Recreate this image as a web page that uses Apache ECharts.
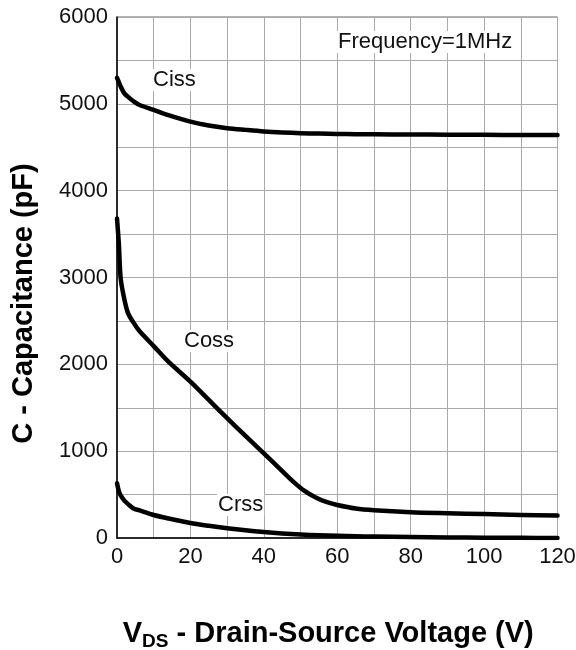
<!DOCTYPE html>
<html>
<head>
<meta charset="utf-8">
<script src="https://cdn.jsdelivr.net/npm/echarts@6/dist/echarts.min.js"></script>
<style>
  html, body { margin: 0; padding: 0; background: #fff; }
  #chart { width: 576px; height: 650px; }
</style>
</head>
<body>
<div id="chart"></div>
<script>
// Drain-source voltage sample points (V) for Ciss and Crss
const vds = [0, 0.5, 1, 2, 3, 4.5, 6, 10, 14, 20, 25, 30, 35, 40, 45, 50, 55, 60, 65, 70, 80, 90, 100, 110, 120];
// Input capacitance (pF)
const ciss = [5300, 5250, 5200, 5120, 5080, 5030, 4990, 4930, 4870, 4795, 4750, 4720, 4700, 4682, 4670, 4662, 4657, 4654, 4651, 4649, 4647, 4645, 4643, 4641, 4640];
// Reverse transfer capacitance (pF)
const crss = [630, 540, 490, 430, 390, 340, 320, 265, 225, 172, 140, 112, 88, 68, 52, 40, 32, 25, 20, 16, 11, 7, 4, 2, 0];
// Output capacitance: its own voltage points (V) and values (pF)
const cossVds = [0, 0.5, 1, 2, 3, 4.5, 6, 10, 14, 20, 25, 30, 35, 40, 45, 48, 51, 54, 57, 60, 65, 70, 80, 90, 100, 110, 120];
const coss = [3680, 3390, 2990, 2750, 2590, 2480, 2390, 2210, 2030, 1800, 1590, 1380, 1175, 975, 770, 650, 545, 470, 415, 380, 340, 320, 297, 285, 275, 266, 258];

const xTicks = [0, 20, 40, 60, 80, 100, 120];
const yTicks = [0, 1000, 2000, 3000, 4000, 5000, 6000];

const pairs = (xs, ys) => xs.map((v, i) => [v, ys[i]]);

const font = 'Liberation Sans, Arial, Helvetica, sans-serif';

const lineSeries = (name, xs, ys) => ({
  name: name,
  type: 'line',
  data: pairs(xs, ys),
  smooth: 0.3,
  showSymbol: false,
  lineStyle: { color: '#000', width: 4.5, join: 'round', cap: 'round' },
  z: 5
});

const annotation = (text, x, y) => ({
  type: 'text',
  left: x,
  top: y,
  z: 10,
  style: {
    text: text,
    font: '22px ' + font,
    fill: '#111',
    backgroundColor: '#fff',
    padding: [0, 1]
  }
});

const chart = echarts.init(document.getElementById('chart'), null, { renderer: 'canvas' });
chart.setOption({
  animation: false,
  backgroundColor: '#fff',
  grid: {
    left: 117, right: 18.5, top: 17, bottom: 112,
    outerBoundsMode: 'none',
    containLabel: false,
    show: true, borderColor: '#666', borderWidth: 1
  },
  xAxis: {
    type: 'value',
    min: 0, max: 120, interval: 10,
    axisLine: { show: true, lineStyle: { color: '#000', width: 1.5 } },
    axisTick: { show: false },
    splitLine: { show: true, lineStyle: { color: '#aaa', width: 1 } },
    axisLabel: {
      margin: 8,
      fontSize: 22, fontFamily: font, color: '#111',
      formatter: (v) => xTicks.includes(v) ? String(v) : ''
    },
    name: '{v|V}{s|DS}{n| - Drain-Source Voltage (V)}',
    nameLocation: 'middle',
    nameGap: 81,
    nameTextStyle: {
      padding: [0, 18, 0, 0],
      rich: {
        v: { fontSize: 29, fontWeight: 'bold', fontFamily: font, color: '#000', verticalAlign: 'bottom' },
        s: { fontSize: 19, fontWeight: 'bold', fontFamily: font, color: '#000', verticalAlign: 'bottom', padding: [0, 0, -3, 0] },
        n: { fontSize: 29, fontWeight: 'bold', fontFamily: font, color: '#000', verticalAlign: 'bottom' }
      }
    }
  },
  yAxis: {
    type: 'value',
    min: 0, max: 6000, interval: 500,
    axisLine: { show: true, lineStyle: { color: '#000', width: 1.5 } },
    axisTick: { show: false },
    splitLine: { show: true, lineStyle: { color: '#aaa', width: 1 } },
    axisLabel: {
      margin: 9,
      fontSize: 22, fontFamily: font, color: '#111',
      formatter: (v) => yTicks.includes(v) ? String(v) : ''
    },
    name: 'C - Capacitance (pF)',
    nameLocation: 'middle',
    nameGap: 79,
    nameTextStyle: {
      fontSize: 29, fontWeight: 'bold', fontFamily: font, color: '#000',
      padding: [0, 52, 0, 0]
    }
  },
  graphic: [
    annotation('Ciss', 152, 69),
    annotation('Coss', 183, 330),
    annotation('Crss', 217, 494),
    annotation('Frequency=1MHz', 337, 31)
  ],
  series: [
    lineSeries('Ciss', vds, ciss),
    lineSeries('Coss', cossVds, coss),
    lineSeries('Crss', vds, crss)
  ]
});
</script>
</body>
</html>
